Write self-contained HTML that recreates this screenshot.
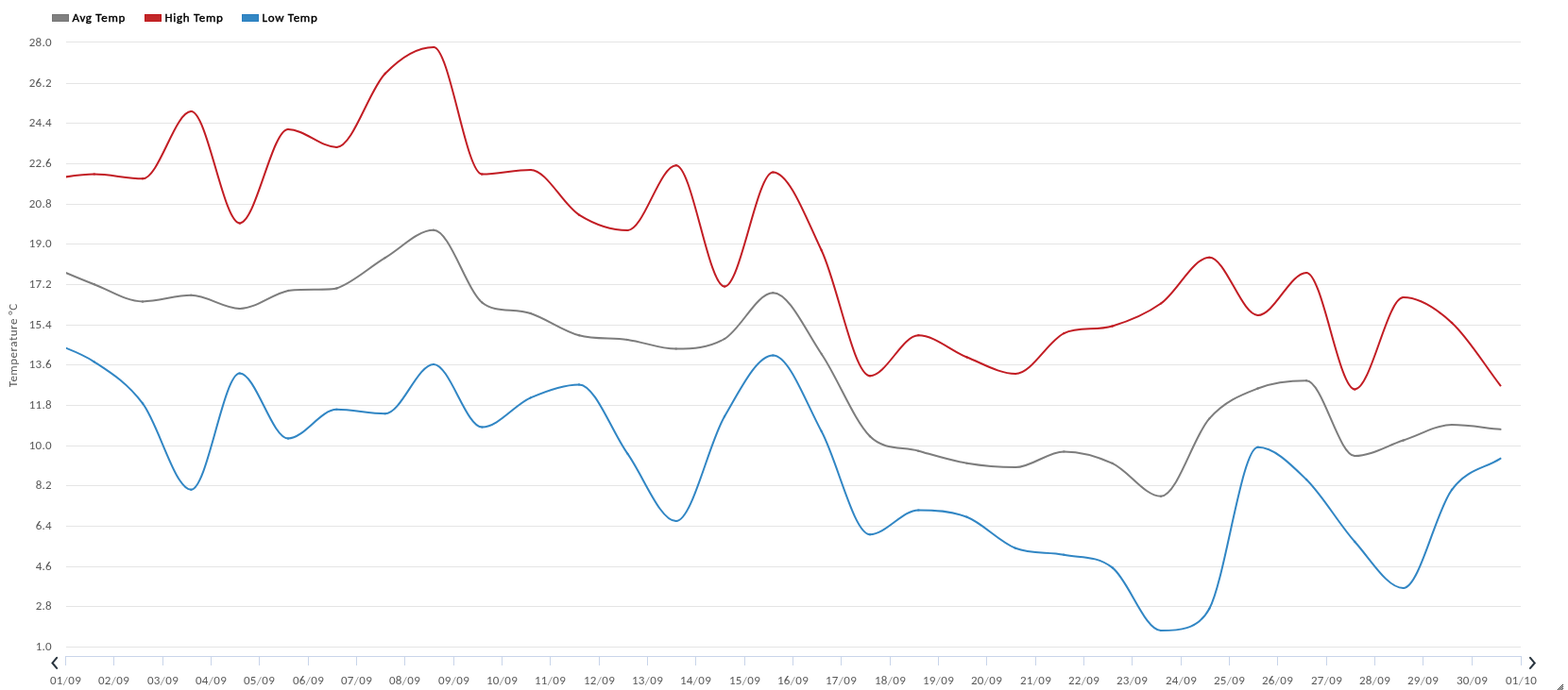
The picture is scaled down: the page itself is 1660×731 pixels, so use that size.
<!DOCTYPE html>
<html><head><meta charset="utf-8"><title>Temperature chart</title>
<style>
html,body{margin:0;padding:0;background:#fff;}
body{width:1660px;height:731px;overflow:hidden;position:relative;font-family:"Carlito", "Liberation Sans", "DejaVu Sans", sans-serif;}
svg{position:absolute;left:0;top:0;}
.lg{font-size:13px;fill:#000;stroke:#000;stroke-width:0.42px;letter-spacing:0.7px;}
.yl{font-size:13px;fill:#595959;letter-spacing:0.2px;}
.xl{font-size:13px;fill:#595959;letter-spacing:0.35px;}
.yt{font-size:13px;fill:#595959;letter-spacing:0.5px;}
</style></head><body>
<svg width="1660" height="731" viewBox="0 0 1660 731">
<defs><clipPath id="pa"><rect x="70" y="0" width="1541" height="731"/></clipPath></defs>
<rect x="55.5" y="15.5" width="17" height="7" fill="#808080" stroke="#767676" stroke-width="1"/>
<text class="lg" x="76.5" y="22.6">Avg Temp</text>
<rect x="153.5" y="15.5" width="17" height="7" fill="#c22829" stroke="#c0161a" stroke-width="1"/>
<text class="lg" x="174.5" y="22.6">High Temp</text>
<rect x="256.5" y="15.5" width="17" height="7" fill="#3387c4" stroke="#2a7fc0" stroke-width="1"/>
<text class="lg" x="277.5" y="22.6">Low Temp</text>
<g stroke="#e5e5e5" stroke-width="1" shape-rendering="crispEdges">
<line x1="70" y1="44.5" x2="1610" y2="44.5"/>
<line x1="70" y1="88.5" x2="1610" y2="88.5"/>
<line x1="70" y1="130.5" x2="1610" y2="130.5"/>
<line x1="70" y1="173.5" x2="1610" y2="173.5"/>
<line x1="70" y1="216.5" x2="1610" y2="216.5"/>
<line x1="70" y1="258.5" x2="1610" y2="258.5"/>
<line x1="70" y1="301.5" x2="1610" y2="301.5"/>
<line x1="70" y1="344.5" x2="1610" y2="344.5"/>
<line x1="70" y1="386.5" x2="1610" y2="386.5"/>
<line x1="70" y1="429.5" x2="1610" y2="429.5"/>
<line x1="70" y1="472.5" x2="1610" y2="472.5"/>
<line x1="70" y1="514.5" x2="1610" y2="514.5"/>
<line x1="70" y1="557.5" x2="1610" y2="557.5"/>
<line x1="70" y1="600.5" x2="1610" y2="600.5"/>
<line x1="70" y1="642.5" x2="1610" y2="642.5"/>
<line x1="70" y1="685.5" x2="1610" y2="685.5"/>
</g>
<text class="yl" x="54.7" y="49.2" text-anchor="end">28.0</text>
<text class="yl" x="54.7" y="92.2" text-anchor="end">26.2</text>
<text class="yl" x="54.7" y="134.2" text-anchor="end">24.4</text>
<text class="yl" x="54.7" y="177.2" text-anchor="end">22.6</text>
<text class="yl" x="54.7" y="220.2" text-anchor="end">20.8</text>
<text class="yl" x="54.7" y="262.2" text-anchor="end">19.0</text>
<text class="yl" x="54.7" y="305.2" text-anchor="end">17.2</text>
<text class="yl" x="54.7" y="348.2" text-anchor="end">15.4</text>
<text class="yl" x="54.7" y="390.2" text-anchor="end">13.6</text>
<text class="yl" x="54.7" y="433.2" text-anchor="end">11.8</text>
<text class="yl" x="54.7" y="476.2" text-anchor="end">10.0</text>
<text class="yl" x="54.7" y="518.2" text-anchor="end">8.2</text>
<text class="yl" x="54.7" y="561.2" text-anchor="end">6.4</text>
<text class="yl" x="54.7" y="604.2" text-anchor="end">4.6</text>
<text class="yl" x="54.7" y="646.2" text-anchor="end">2.8</text>
<text class="yl" x="54.7" y="689.2" text-anchor="end">1.0</text>
<text class="yt" transform="translate(18.3 365.8) rotate(-90)" text-anchor="middle">Temperature °C</text>
<g stroke="#c9d5ea" stroke-width="1" shape-rendering="crispEdges">
<line x1="69" y1="695.5" x2="1611" y2="695.5"/>
<line x1="69.5" y1="695" x2="69.5" y2="705"/>
<line x1="120.5" y1="695" x2="120.5" y2="705"/>
<line x1="172.5" y1="695" x2="172.5" y2="705"/>
<line x1="223.5" y1="695" x2="223.5" y2="705"/>
<line x1="274.5" y1="695" x2="274.5" y2="705"/>
<line x1="326.5" y1="695" x2="326.5" y2="705"/>
<line x1="377.5" y1="695" x2="377.5" y2="705"/>
<line x1="428.5" y1="695" x2="428.5" y2="705"/>
<line x1="480.5" y1="695" x2="480.5" y2="705"/>
<line x1="531.5" y1="695" x2="531.5" y2="705"/>
<line x1="582.5" y1="695" x2="582.5" y2="705"/>
<line x1="634.5" y1="695" x2="634.5" y2="705"/>
<line x1="685.5" y1="695" x2="685.5" y2="705"/>
<line x1="736.5" y1="695" x2="736.5" y2="705"/>
<line x1="788.5" y1="695" x2="788.5" y2="705"/>
<line x1="839.5" y1="695" x2="839.5" y2="705"/>
<line x1="890.5" y1="695" x2="890.5" y2="705"/>
<line x1="942.5" y1="695" x2="942.5" y2="705"/>
<line x1="993.5" y1="695" x2="993.5" y2="705"/>
<line x1="1044.5" y1="695" x2="1044.5" y2="705"/>
<line x1="1096.5" y1="695" x2="1096.5" y2="705"/>
<line x1="1147.5" y1="695" x2="1147.5" y2="705"/>
<line x1="1198.5" y1="695" x2="1198.5" y2="705"/>
<line x1="1250.5" y1="695" x2="1250.5" y2="705"/>
<line x1="1301.5" y1="695" x2="1301.5" y2="705"/>
<line x1="1352.5" y1="695" x2="1352.5" y2="705"/>
<line x1="1404.5" y1="695" x2="1404.5" y2="705"/>
<line x1="1455.5" y1="695" x2="1455.5" y2="705"/>
<line x1="1506.5" y1="695" x2="1506.5" y2="705"/>
<line x1="1558.5" y1="695" x2="1558.5" y2="705"/>
<line x1="1610.5" y1="695" x2="1610.5" y2="705"/>
</g>
<text class="xl" x="69.5" y="725" text-anchor="middle">01<tspan dy="1.2" fill="#8a8a8a">/</tspan><tspan dy="-1.2">09</tspan></text>
<text class="xl" x="120.5" y="725" text-anchor="middle">02<tspan dy="1.2" fill="#8a8a8a">/</tspan><tspan dy="-1.2">09</tspan></text>
<text class="xl" x="172.5" y="725" text-anchor="middle">03<tspan dy="1.2" fill="#8a8a8a">/</tspan><tspan dy="-1.2">09</tspan></text>
<text class="xl" x="223.5" y="725" text-anchor="middle">04<tspan dy="1.2" fill="#8a8a8a">/</tspan><tspan dy="-1.2">09</tspan></text>
<text class="xl" x="274.5" y="725" text-anchor="middle">05<tspan dy="1.2" fill="#8a8a8a">/</tspan><tspan dy="-1.2">09</tspan></text>
<text class="xl" x="326.5" y="725" text-anchor="middle">06<tspan dy="1.2" fill="#8a8a8a">/</tspan><tspan dy="-1.2">09</tspan></text>
<text class="xl" x="377.5" y="725" text-anchor="middle">07<tspan dy="1.2" fill="#8a8a8a">/</tspan><tspan dy="-1.2">09</tspan></text>
<text class="xl" x="428.5" y="725" text-anchor="middle">08<tspan dy="1.2" fill="#8a8a8a">/</tspan><tspan dy="-1.2">09</tspan></text>
<text class="xl" x="480.5" y="725" text-anchor="middle">09<tspan dy="1.2" fill="#8a8a8a">/</tspan><tspan dy="-1.2">09</tspan></text>
<text class="xl" x="531.5" y="725" text-anchor="middle">10<tspan dy="1.2" fill="#8a8a8a">/</tspan><tspan dy="-1.2">09</tspan></text>
<text class="xl" x="582.5" y="725" text-anchor="middle">11<tspan dy="1.2" fill="#8a8a8a">/</tspan><tspan dy="-1.2">09</tspan></text>
<text class="xl" x="634.5" y="725" text-anchor="middle">12<tspan dy="1.2" fill="#8a8a8a">/</tspan><tspan dy="-1.2">09</tspan></text>
<text class="xl" x="685.5" y="725" text-anchor="middle">13<tspan dy="1.2" fill="#8a8a8a">/</tspan><tspan dy="-1.2">09</tspan></text>
<text class="xl" x="736.5" y="725" text-anchor="middle">14<tspan dy="1.2" fill="#8a8a8a">/</tspan><tspan dy="-1.2">09</tspan></text>
<text class="xl" x="788.5" y="725" text-anchor="middle">15<tspan dy="1.2" fill="#8a8a8a">/</tspan><tspan dy="-1.2">09</tspan></text>
<text class="xl" x="839.5" y="725" text-anchor="middle">16<tspan dy="1.2" fill="#8a8a8a">/</tspan><tspan dy="-1.2">09</tspan></text>
<text class="xl" x="890.5" y="725" text-anchor="middle">17<tspan dy="1.2" fill="#8a8a8a">/</tspan><tspan dy="-1.2">09</tspan></text>
<text class="xl" x="942.5" y="725" text-anchor="middle">18<tspan dy="1.2" fill="#8a8a8a">/</tspan><tspan dy="-1.2">09</tspan></text>
<text class="xl" x="993.5" y="725" text-anchor="middle">19<tspan dy="1.2" fill="#8a8a8a">/</tspan><tspan dy="-1.2">09</tspan></text>
<text class="xl" x="1044.5" y="725" text-anchor="middle">20<tspan dy="1.2" fill="#8a8a8a">/</tspan><tspan dy="-1.2">09</tspan></text>
<text class="xl" x="1096.5" y="725" text-anchor="middle">21<tspan dy="1.2" fill="#8a8a8a">/</tspan><tspan dy="-1.2">09</tspan></text>
<text class="xl" x="1147.5" y="725" text-anchor="middle">22<tspan dy="1.2" fill="#8a8a8a">/</tspan><tspan dy="-1.2">09</tspan></text>
<text class="xl" x="1198.5" y="725" text-anchor="middle">23<tspan dy="1.2" fill="#8a8a8a">/</tspan><tspan dy="-1.2">09</tspan></text>
<text class="xl" x="1250.5" y="725" text-anchor="middle">24<tspan dy="1.2" fill="#8a8a8a">/</tspan><tspan dy="-1.2">09</tspan></text>
<text class="xl" x="1301.5" y="725" text-anchor="middle">25<tspan dy="1.2" fill="#8a8a8a">/</tspan><tspan dy="-1.2">09</tspan></text>
<text class="xl" x="1352.5" y="725" text-anchor="middle">26<tspan dy="1.2" fill="#8a8a8a">/</tspan><tspan dy="-1.2">09</tspan></text>
<text class="xl" x="1404.5" y="725" text-anchor="middle">27<tspan dy="1.2" fill="#8a8a8a">/</tspan><tspan dy="-1.2">09</tspan></text>
<text class="xl" x="1455.5" y="725" text-anchor="middle">28<tspan dy="1.2" fill="#8a8a8a">/</tspan><tspan dy="-1.2">09</tspan></text>
<text class="xl" x="1506.5" y="725" text-anchor="middle">29<tspan dy="1.2" fill="#8a8a8a">/</tspan><tspan dy="-1.2">09</tspan></text>
<text class="xl" x="1558.5" y="725" text-anchor="middle">30<tspan dy="1.2" fill="#8a8a8a">/</tspan><tspan dy="-1.2">09</tspan></text>
<text class="xl" x="1610.5" y="725" text-anchor="middle">01<tspan dy="1.2" fill="#8a8a8a">/</tspan><tspan dy="-1.2">10</tspan></text>
<g fill="none" stroke="#2b3640" stroke-width="2.1" stroke-linecap="round" stroke-linejoin="miter">
<polyline points="60.1,696.9 55.5,702.4 60.1,707.9"/>
<polyline points="1620,696.9 1624.7,702.4 1620,707.9"/>
</g>
<g clip-path="url(#pa)" fill="none" stroke-width="2" stroke-linejoin="round" stroke-linecap="square">
<g stroke="#7d7d7d">
<path d="M48.36 280C65.46 287.06 82.6 294.64 99.7 301.2"/>
<path d="M99.7 301.2C116.79 307.76 133.94 319.4 151.03 319.4"/>
<path d="M151.03 319.4C168.12 319.4 185.27 312.8 202.36 312.8"/>
<path d="M202.36 312.8C219.46 312.8 236.6 326.9 253.7 326.9"/>
<path d="M253.7 326.9C270.79 326.9 287.94 311.46 305.03 307.9"/>
<path d="M305.03 307.9C316.54 305.5 349.28 307.9 356.36 305.5"/>
<path d="M356.36 305.5C373.46 299.71 390.6 283.37 407.7 273.1"/>
<path d="M407.7 273.1C424.79 262.83 441.94 243.8 459.03 243.8"/>
<path d="M459.03 243.8C476.12 243.8 493.27 305.81 510.36 320.5"/>
<path d="M510.36 320.5C523.75 332 544.6 326.21 561.7 332"/>
<path d="M561.7 332C578.79 337.79 595.94 350.65 613.03 355.3"/>
<path d="M613.03 355.3C629.96 359.9 647.27 357.52 664.36 359.9"/>
<path d="M664.36 359.9C681.46 362.28 698.6 369.6 715.7 369.6"/>
<path d="M715.7 369.6C732.79 369.6 749.94 368.89 767.03 359"/>
<path d="M767.03 359C784.12 349.11 801.27 310.2 818.36 310.2"/>
<path d="M818.36 310.2C835.46 310.2 852.6 349.68 869.7 375"/>
<path d="M869.7 375C886.79 400.32 903.94 445.2 921.03 462.3"/>
<path d="M921.03 462.3C936.43 477.7 955.27 472.95 972.36 477.7"/>
<path d="M972.36 477.7C989.46 482.45 1006.6 487.9 1023.7 490.8"/>
<path d="M1023.7 490.8C1040.79 493.7 1057.94 495.1 1075.03 495.1"/>
<path d="M1075.03 495.1C1092.12 495.1 1109.27 478.4 1126.36 478.4"/>
<path d="M1126.36 478.4C1143.46 478.4 1160.6 483.01 1177.7 490.9"/>
<path d="M1177.7 490.9C1194.79 498.79 1211.94 525.8 1229.03 525.8"/>
<path d="M1229.03 525.8C1246.12 525.8 1263.27 462.33 1280.36 443.3"/>
<path d="M1280.36 443.3C1297.46 424.27 1314.6 418.16 1331.7 411.5"/>
<path d="M1331.7 411.5C1348.79 404.84 1365.94 403.3 1383.03 403.3"/>
<path d="M1383.03 403.3C1400.12 403.3 1417.27 483.1 1434.36 483.1"/>
<path d="M1434.36 483.1C1451.46 483.1 1468.6 471.99 1485.7 466.5"/>
<path d="M1485.7 466.5C1502.79 461.01 1519.94 450.1 1537.03 450.1"/>
<path d="M1537.03 450.1C1554.12 450.1 1571.27 453.23 1588.36 454.8"/>
</g>
<g stroke="#c21d24">
<path d="M48.36 190.5C65.46 188.5 82.6 184.5 99.7 184.5"/>
<path d="M99.7 184.5C116.79 184.5 133.94 189.3 151.03 189.3"/>
<path d="M151.03 189.3C168.12 189.3 185.27 118.1 202.36 118.1"/>
<path d="M202.36 118.1C219.46 118.1 236.6 236.4 253.7 236.4"/>
<path d="M253.7 236.4C270.79 236.4 287.94 137 305.03 137"/>
<path d="M305.03 137C322.12 137 339.27 155.9 356.36 155.9"/>
<path d="M356.36 155.9C373.46 155.9 390.6 95.65 407.7 78"/>
<path d="M407.7 78C424.79 60.35 441.94 49.9 459.03 49.9"/>
<path d="M459.03 49.9C476.12 49.9 493.27 184.6 510.36 184.6"/>
<path d="M510.36 184.6C527.46 184.6 544.6 180 561.7 180"/>
<path d="M561.7 180C578.79 180 595.94 216.94 613.03 227.6"/>
<path d="M613.03 227.6C630.12 238.26 647.27 244 664.36 244"/>
<path d="M664.36 244C681.46 244 698.6 175.2 715.7 175.2"/>
<path d="M715.7 175.2C732.79 175.2 749.94 303.5 767.03 303.5"/>
<path d="M767.03 303.5C784.12 303.5 801.27 182.4 818.36 182.4"/>
<path d="M818.36 182.4C835.46 182.4 852.6 229.27 869.7 265.2"/>
<path d="M869.7 265.2C886.79 301.13 903.94 398.2 921.03 398.2"/>
<path d="M921.03 398.2C938.12 398.2 955.27 355.3 972.36 355.3"/>
<path d="M972.36 355.3C989.46 355.3 1006.6 371.72 1023.7 378.5"/>
<path d="M1023.7 378.5C1040.79 385.28 1057.94 396 1075.03 396"/>
<path d="M1075.03 396C1092.12 396 1109.27 361.51 1126.36 353.1"/>
<path d="M1126.36 353.1C1141.81 345.5 1160.6 350.76 1177.7 345.5"/>
<path d="M1177.7 345.5C1194.79 340.24 1211.94 333.62 1229.03 321.5"/>
<path d="M1229.03 321.5C1246.12 309.38 1263.27 272.7 1280.36 272.7"/>
<path d="M1280.36 272.7C1297.46 272.7 1314.6 334 1331.7 334"/>
<path d="M1331.7 334C1348.79 334 1365.94 288.9 1383.03 288.9"/>
<path d="M1383.03 288.9C1400.12 288.9 1417.27 412.4 1434.36 412.4"/>
<path d="M1434.36 412.4C1451.46 412.4 1468.6 315.1 1485.7 315.1"/>
<path d="M1485.7 315.1C1502.79 315.1 1519.94 326.38 1537.03 341.9"/>
<path d="M1537.03 341.9C1554.12 357.42 1571.27 386.19 1588.36 408.3"/>
</g>
<g stroke="#3186c4">
<path d="M48.36 360C65.46 367.76 82.6 372.08 99.7 383.3"/>
<path d="M99.7 383.3C116.79 394.52 133.94 404.84 151.03 427.4"/>
<path d="M151.03 427.4C168.12 449.96 185.27 518.8 202.36 518.8"/>
<path d="M202.36 518.8C219.46 518.8 236.6 395.6 253.7 395.6"/>
<path d="M253.7 395.6C270.79 395.6 287.94 464.5 305.03 464.5"/>
<path d="M305.03 464.5C322.12 464.5 339.27 433.8 356.36 433.8"/>
<path d="M356.36 433.8C373.46 433.8 390.6 438.3 407.7 438.3"/>
<path d="M407.7 438.3C424.79 438.3 441.94 385.9 459.03 385.9"/>
<path d="M459.03 385.9C476.12 385.9 493.27 452.5 510.36 452.5"/>
<path d="M510.36 452.5C527.46 452.5 544.6 428.91 561.7 421.4"/>
<path d="M561.7 421.4C578.79 413.89 595.94 407.4 613.03 407.4"/>
<path d="M613.03 407.4C630.12 407.4 647.27 456.61 664.36 480.7"/>
<path d="M664.36 480.7C681.46 504.79 698.6 552.1 715.7 552.1"/>
<path d="M715.7 552.1C732.79 552.1 749.94 470.44 767.03 441.2"/>
<path d="M767.03 441.2C784.12 411.96 801.27 376.5 818.36 376.5"/>
<path d="M818.36 376.5C835.46 376.5 852.6 425.41 869.7 457"/>
<path d="M869.7 457C886.79 488.59 903.94 566.2 921.03 566.2"/>
<path d="M921.03 566.2C938.12 566.2 955.27 540.4 972.36 540.4"/>
<path d="M972.36 540.4C989.46 540.4 1006.6 541.07 1023.7 547.8"/>
<path d="M1023.7 547.8C1040.79 554.53 1057.94 574.14 1075.03 580.8"/>
<path d="M1075.03 580.8C1092.12 587.46 1109.27 584.37 1126.36 587.8"/>
<path d="M1126.36 587.8C1143.46 591.23 1160.6 588.05 1177.7 601.4"/>
<path d="M1177.7 601.4C1194.79 614.75 1211.94 668 1229.03 668"/>
<path d="M1229.03 668C1246.12 668 1268.1 668 1280.36 644.8"/>
<path d="M1280.36 644.8C1297.46 612.47 1314.6 473.8 1331.7 473.8"/>
<path d="M1331.7 473.8C1348.79 473.8 1365.94 491.32 1383.03 508"/>
<path d="M1383.03 508C1400.12 524.68 1417.27 554.85 1434.36 574"/>
<path d="M1434.36 574C1451.46 593.15 1468.6 623 1485.7 623"/>
<path d="M1485.7 623C1502.79 623 1519.94 541.64 1537.03 518.8"/>
<path d="M1537.03 518.8C1554.12 495.96 1571.27 496.79 1588.36 485.8"/>
</g>
</g>
<g fill="#222">
<rect x="1654" y="725" width="1" height="1"/><rect x="1653" y="726" width="1" height="1"/><rect x="1652" y="727" width="1" height="1"/><rect x="1654" y="727" width="1" height="1"/><rect x="1651" y="728" width="1" height="1"/><rect x="1653" y="728" width="1" height="1"/><rect x="1650" y="729" width="1" height="1"/><rect x="1652" y="729" width="1" height="1"/><rect x="1654" y="729" width="1" height="1"/><rect x="1649" y="730" width="1" height="1"/><rect x="1651" y="730" width="1" height="1"/><rect x="1653" y="730" width="1" height="1"/>
</g>
</svg>
</body></html>
